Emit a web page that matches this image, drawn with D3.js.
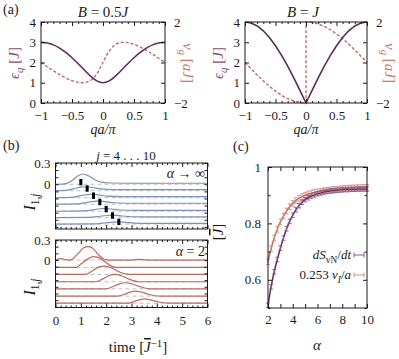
<!DOCTYPE html>
<html>
<head>
<meta charset="utf-8">
<script src="https://cdn.jsdelivr.net/npm/d3@7"></script>
<style>
body { margin: 0; background: #fff; }
</style>
</head>
<body>
<script>
// panel (a): dispersion and group velocity
const qGrid = [-1,-0.9,-0.8,-0.7,-0.6,-0.5,-0.4,-0.3,-0.2,-0.1,0,0.1,0.2,0.3,0.4,0.5,0.6,0.7,0.8,0.9,1];
const epsHalf = [3,2.967,2.870,2.711,2.497,2.236,1.940,1.628,1.328,1.093,1.0,1.093,1.328,1.628,1.940,2.236,2.497,2.711,2.870,2.967,3];
const vgHalf = [0,-0.208,-0.410,-0.597,-0.762,-0.894,-0.980,-0.994,-0.885,-0.565,0,0.565,0.885,0.994,0.980,0.894,0.762,0.597,0.410,0.208,0];
const epsFull = [4,3.951,3.804,3.564,3.236,2.828,2.351,1.816,1.236,0.626,0,0.626,1.236,1.816,2.351,2.828,3.236,3.564,3.804,3.951,4];
const qJump = [-1,-0.9,-0.8,-0.7,-0.6,-0.5,-0.4,-0.3,-0.2,-0.1,0,0,0.1,0.2,0.3,0.4,0.5,0.6,0.7,0.8,0.9,1];
const vgFull = [0,-0.313,-0.618,-0.908,-1.176,-1.414,-1.618,-1.782,-1.902,-1.975,-2,2,1.975,1.902,1.782,1.618,1.414,1.176,0.908,0.618,0.313,0];
const qMajor = [-1,-0.5,0,0.5,1];
const qMinor = [-0.9,-0.8,-0.7,-0.6,-0.4,-0.3,-0.2,-0.1,0.1,0.2,0.3,0.4,0.6,0.7,0.8,0.9];
const epsTicks = [0,1,2,3,4];
const vgTicks = [-2,-1,0,1,2];

// panel (b): currents I_{1,j}, j = 4..10, [time, value]
const pulsesInf = [
  [[0,0],[0.3,0.003],[0.6,0.04],[0.85,0.11],[1.08,0.145],[1.3,0.12],[1.55,0.065],[1.8,0.03],[2.1,0.018],[3,0.015],[6,0.015]],
  [[0,0],[0.4,0.005],[0.75,0.03],[1.0,0.05],[1.2,0.055],[1.45,0.045],[1.8,0.025],[2.3,0.015],[6,0.015]],
  [[0,0],[0.6,0.005],[1.0,0.03],[1.25,0.045],[1.45,0.05],[1.7,0.04],[2.05,0.022],[2.6,0.015],[6,0.015]],
  [[0,0],[0.85,0.005],[1.25,0.025],[1.5,0.04],[1.72,0.045],[1.95,0.036],[2.3,0.02],[2.8,0.013],[6,0.013]],
  [[0,0],[1.1,0.005],[1.5,0.022],[1.75,0.035],[1.98,0.04],[2.2,0.032],[2.55,0.018],[3.1,0.012],[6,0.012]],
  [[0,0],[1.35,0.004],[1.75,0.02],[2.0,0.03],[2.25,0.035],[2.5,0.028],[2.85,0.016],[3.4,0.011],[6,0.011]],
  [[0,0],[1.6,0.003],[2.0,0.018],[2.25,0.026],[2.5,0.03],[2.75,0.024],[3.1,0.014],[3.6,0.01],[6,0.01]]
];
const pulsesTwo = [
  [[0,0],[0.1,0.015],[0.25,0.02],[0.4,0.005],[0.55,0],[0.65,0.01],[0.9,0.1],[1.1,0.18],[1.28,0.2],[1.45,0.18],[1.7,0.08],[1.9,0.015],[2.1,0],[3.0,0],[3.3,0.01],[3.6,0],[6,0]],
  [[0,0],[0.83,0],[1.0,0.05],[1.25,0.12],[1.5,0.16],[1.65,0.155],[1.9,0.1],[2.15,0.03],[2.4,0],[6,0]],
  [[0,0],[1.2,0],[1.4,0.04],[1.7,0.11],[1.95,0.125],[2.2,0.1],[2.5,0.04],[2.8,0.005],[3.0,0],[6,0]],
  [[0,0],[1.6,0],[1.85,0.04],[2.1,0.09],[2.35,0.11],[2.6,0.09],[2.9,0.04],[3.3,0],[6,0]],
  [[0,0],[2.0,0],[2.25,0.03],[2.5,0.07],[2.75,0.09],[3.0,0.075],[3.3,0.035],[3.7,0],[6,0]],
  [[0,0],[2.45,0],[2.7,0.025],[2.95,0.06],[3.15,0.075],[3.4,0.06],[3.7,0.025],[4.1,0],[6,0]],
  [[0,0],[2.9,0],[3.1,0.025],[3.3,0.05],[3.5,0.065],[3.75,0.05],[4.05,0.02],[4.4,0],[6,0]]
];
const offsetsInf = [0,-0.09,-0.19,-0.28,-0.38,-0.47,-0.56];
const offsetsTwo = [0,-0.11,-0.215,-0.325,-0.43,-0.54,-0.645];
const barTimes = [1.0,1.25,1.5,1.75,2.0,2.25,2.5];
const tMajor = [0,1,2,3,4,5,6];
const tMinor = [0.2,0.4,0.6,0.8,1.2,1.4,1.6,1.8,2.2,2.4,2.6,2.8,3.2,3.4,3.6,3.8,4.2,4.4,4.6,4.8,5.2,5.4,5.6,5.8];
const iTicksTop = [-0.6,-0.5,-0.4,-0.3,-0.2,-0.1,0,0.1,0.2,0.3];
const iTicksBot = [-0.7,-0.6,-0.5,-0.4,-0.3,-0.2,-0.1,0,0.1,0.2,0.3];

// panel (c): velocities vs alpha
const alphas = [2,2.25,2.5,2.75,3,3.25,3.5,3.75,4,4.25,4.5,4.75,5,5.25,5.5,5.75,6,6.25,6.5,6.75,7,7.25,7.5,7.75,8,8.25,8.5,8.75,9,9.25,9.5,9.75,10];
const entropyRate = [0.51,0.575,0.628,0.672,0.712,0.748,0.781,0.807,0.829,0.848,0.863,0.875,0.884,0.891,0.897,0.901,0.905,0.908,0.911,0.913,0.915,0.916,0.917,0.918,0.919,0.920,0.920,0.921,0.921,0.922,0.922,0.922,0.922];
const infoVel = [0.664,0.71,0.748,0.779,0.805,0.826,0.844,0.859,0.871,0.881,0.889,0.895,0.900,0.904,0.907,0.910,0.912,0.914,0.916,0.917,0.919,0.920,0.921,0.922,0.923,0.924,0.925,0.926,0.926,0.927,0.927,0.928,0.928];
const entropyErr = 0.008;
const infoErr = 0.01;
const alphaMajor = [2,4,6,8,10];
const alphaMinor = [3,5,7,9];
const jMajor = [0.6,0.8,1.0];
const jMinor = [0.5,0.7,0.9];

const ink = "#1a1a1a";
const purple = "#5e2b5c";
const salmon = "#c26a5c";
const serif = "'Liberation Serif', 'DejaVu Serif', serif";

const svg = d3.select("body").append("svg")
    .attr("width", 399).attr("height", 359)
    .attr("font-family", serif).attr("fill", ink);

// parts: [text, style] with i = italic, _ = subscript, ^ = superscript, o = overline
function rich(text, parts) {
    let shift = 0;
    parts.forEach(p => {
        const t = p[0], st = p[1] || "";
        const target = st.includes("_") ? 4 : st.includes("^") ? -5 : 0;
        const ts = text.append("tspan").text(t).attr("dy", target - shift);
        shift = target;
        if (st.includes("i")) ts.attr("font-style", "italic");
        if (st.includes("o")) ts.attr("text-decoration", "overline");
        if (target !== 0) ts.attr("font-size", "0.72em");
    });
    return text;
}

function label(x, y, parts, size, opts) {
    opts = opts || {};
    const t = svg.append("text")
        .attr("transform", `translate(${x},${y})` + (opts.rot ? ` rotate(${opts.rot})` : ""))
        .attr("text-anchor", opts.anchor || "middle")
        .attr("font-size", size)
        .attr("fill", opts.color || ink);
    return rich(t, parts);
}

function frame(x, y) {
    svg.append("rect")
        .attr("x", x.range()[0]).attr("y", y.range()[1])
        .attr("width", x.range()[1] - x.range()[0])
        .attr("height", y.range()[0] - y.range()[1])
        .attr("fill", "none").attr("stroke", ink).attr("stroke-width", 1);
}

function ticks(axisFn, scale, at, values, size, fmt, pad) {
    const a = axisFn(scale).tickValues(values).tickSizeInner(-size).tickSizeOuter(0)
        .tickPadding(pad === undefined ? 4 : pad)
        .tickFormat(fmt || (() => ""));
    const g = svg.append("g").attr("transform", at).call(a);
    g.select(".domain").remove();
    g.selectAll("line").attr("stroke", ink);
    g.selectAll("text").attr("font-family", serif).attr("font-size", 13).attr("fill", ink);
    return g;
}

const num = d3.format("~g");
const only = list => d => list.some(v => Math.abs(v - d) < 1e-9) ? num(d) : "";

// ---------- (a) ----------
function dispersion(x0, x1, eps, qV, vg, smooth) {
    const x = d3.scaleLinear([-1, 1], [x0, x1]);
    const y = d3.scaleLinear([0, 4], [103, 22]);
    const y2 = d3.scaleLinear([-2, 2], [103, 22]);
    const curve = smooth ? d3.curveCatmullRom : d3.curveLinear;

    const lineV = d3.line().x((d, i) => x(qV[i])).y(d => y2(d)).curve(curve);
    svg.append("path").datum(vg).attr("d", lineV)
        .attr("fill", "none").attr("stroke", salmon).attr("stroke-width", 1.4)
        .attr("stroke-dasharray", "3,2");

    const lineE = d3.line().x((d, i) => x(qGrid[i])).y(d => y(d)).curve(curve);
    svg.append("path").datum(eps).attr("d", lineE)
        .attr("fill", "none").attr("stroke", purple).attr("stroke-width", 1.6);

    frame(x, y);
    ticks(d3.axisBottom, x, "translate(0,103)", qMajor, 4, num, 8);
    ticks(d3.axisBottom, x, "translate(0,103)", qMinor, 2);
    ticks(d3.axisTop, x, "translate(0,22)", qMajor, 4);
    ticks(d3.axisTop, x, "translate(0,22)", qMinor, 2);
    ticks(d3.axisLeft, y, `translate(${x0},0)`, epsTicks, 4, num, 5);
    ticks(d3.axisRight, y2, `translate(${x1},0)`, vgTicks, 4, only([-2, 2]), 9);

    const cx = (x0 + x1) / 2;
    label(cx, 134, [["qa/π", "i"]], 14);
    label(x0 - 22, 63, [["ϵ", "i"], ["q", "i_"], [" ["], ["J", "i"], ["]"]], 15, {rot: -90, color: "#8c4a75"});
    label(x1 + 18, 63, [["v", "i"], ["g", "i_"], [" ["], ["aJ", "i"], ["]"]], 15, {rot: 90, color: "#c67a6c"});
}

dispersion(41, 165, epsHalf, qGrid, vgHalf, true);
dispersion(245, 367, epsFull, qJump, vgFull, false);
label(103, 17, [["B", "i"], [" = 0.5"], ["J", "i"]], 15);
label(303, 17, [["B", "i"], [" = "], ["J", "i"]], 15);
label(3, 14, [["(a)"]], 14, {anchor: "start"});

// ---------- (b) ----------
const xB = d3.scaleLinear([0, 6], [55.5, 207.5]);
const yBt = d3.scaleLinear([-0.63, 0.3], [229, 163]);
const yBb = d3.scaleLinear([-0.71, 0.3], [307.5, 240]);

function pulses(y, data, offsets, color) {
    offsets.forEach(off => {
        svg.append("line")
            .attr("x1", xB(0)).attr("x2", xB(6)).attr("y1", y(off)).attr("y2", y(off))
            .attr("stroke", "#b0b0b0").attr("stroke-width", 0.8).attr("stroke-dasharray", "4,3");
    });
    data.forEach((curve, k) => {
        const line = d3.line().x(d => xB(d[0])).y(d => y(d[1] + offsets[k])).curve(d3.curveMonotoneX);
        svg.append("path").datum(curve).attr("d", line)
            .attr("fill", "none").attr("stroke", color).attr("stroke-width", 1.2);
    });
}

pulses(yBt, pulsesInf, offsetsInf, "#7d91b4");
barTimes.forEach((t, k) => {
    svg.append("rect")
        .attr("x", xB(t) - 1.5).attr("width", 3)
        .attr("y", yBt(offsetsInf[k] + 0.075))
        .attr("height", yBt(offsetsInf[k] - 0.015) - yBt(offsetsInf[k] + 0.075))
        .attr("fill", "#000");
});
pulses(yBb, pulsesTwo, offsetsTwo, "#b96b60");

[[yBt, iTicksTop], [yBb, iTicksBot]].forEach(([y, iTicks], p) => {
    frame(xB, y);
    const bot = y.range()[0], top = y.range()[1];
    ticks(d3.axisBottom, xB, `translate(0,${bot})`, tMajor, 4, p === 1 ? num : null, 8);
    ticks(d3.axisBottom, xB, `translate(0,${bot})`, tMinor, 2);
    ticks(d3.axisTop, xB, `translate(0,${top})`, tMajor, 4);
    ticks(d3.axisTop, xB, `translate(0,${top})`, tMinor, 2);
    ticks(d3.axisLeft, y, "translate(55.5,0)", iTicks, 3, only([0, 0.3]), 5);
    ticks(d3.axisRight, y, "translate(207.5,0)", iTicks, 3);
});

label(3, 150, [["(b)"]], 14, {anchor: "start"});
label(126, 160, [["j", "i"], [" = 4 . . . 10"]], 13);
label(205, 178, [["α", "i"], [" → ∞"]], 14, {anchor: "end"});
label(205, 256, [["α", "i"], [" = 2"]], 14, {anchor: "end"});
label(35, 202, [["I", "i"], ["1,", "_"], ["j", "i_"]], 16, {rot: -90});
label(35, 287, [["I", "i"], ["1,", "_"], ["j", "i_"]], 16, {rot: -90});
label(138, 352, [["time ["], ["J", "io"], ["−1", "^"], ["]"]], 15);

// ---------- (c) ----------
const xC = d3.scaleLinear([2, 10], [268, 367]);
const yC = d3.scaleLinear([0.5, 1], [308, 167]);

function series(vals, err, lineColor, markColor) {
    const line = d3.line().x((d, i) => xC(alphas[i])).y(d => yC(d)).curve(d3.curveMonotoneX);
    svg.append("path").datum(vals).attr("d", line)
        .attr("fill", "none").attr("stroke", lineColor).attr("stroke-width", 1.5);
    const g = svg.append("g").attr("stroke", markColor).attr("stroke-width", 0.9);
    vals.forEach((v, i) => {
        const cx = xC(alphas[i]), lo = yC(v - err), hi = yC(v + err);
        g.append("line").attr("x1", cx).attr("x2", cx).attr("y1", lo).attr("y2", hi);
        g.append("line").attr("x1", cx - 2).attr("x2", cx + 2).attr("y1", lo).attr("y2", lo);
        g.append("line").attr("x1", cx - 2).attr("x2", cx + 2).attr("y1", hi).attr("y2", hi);
    });
}

series(infoVel, infoErr, salmon, "#d68f84");
series(entropyRate, entropyErr, purple, "#8a5a88");

frame(xC, yC);
ticks(d3.axisBottom, xC, "translate(0,308)", alphaMajor, 4, num, 7);
ticks(d3.axisBottom, xC, "translate(0,308)", alphaMinor, 4);
ticks(d3.axisTop, xC, "translate(0,167)", alphaMajor, 4);
ticks(d3.axisTop, xC, "translate(0,167)", alphaMinor, 4);
ticks(d3.axisLeft, yC, "translate(268,0)", jMajor, 4, num, 7);
ticks(d3.axisLeft, yC, "translate(268,0)", jMinor, 2.5);
ticks(d3.axisRight, yC, "translate(367,0)", jMajor, 4);
ticks(d3.axisRight, yC, "translate(367,0)", jMinor, 2.5);

label(233, 151, [["(c)"]], 14, {anchor: "start"});
label(317, 350, [["α", "i"]], 15);
label(223, 232, [["["], ["J", "io"], ["]"]], 15, {rot: -90});

const legend = [
    {parts: [["dS", "i"], ["vN", "_"], ["/"], ["dt", "i"]], color: "#8a5a88", y: 259},
    {parts: [["0.253 "], ["v", "i"], ["I", "i_"], ["/"], ["a", "i"]], color: "#d68f84", y: 279}
];
legend.forEach(l => {
    label(351, l.y, l.parts, 13, {anchor: "end"});
    const sy = l.y - 4;
    const g = svg.append("g").attr("stroke", l.color).attr("stroke-width", 1);
    g.append("line").attr("x1", 354).attr("x2", 364).attr("y1", sy).attr("y2", sy);
    g.append("line").attr("x1", 354).attr("x2", 354).attr("y1", sy - 2.5).attr("y2", sy + 2.5);
    g.append("line").attr("x1", 364).attr("x2", 364).attr("y1", sy - 2.5).attr("y2", sy + 2.5);
});
</script>
</body>
</html>
